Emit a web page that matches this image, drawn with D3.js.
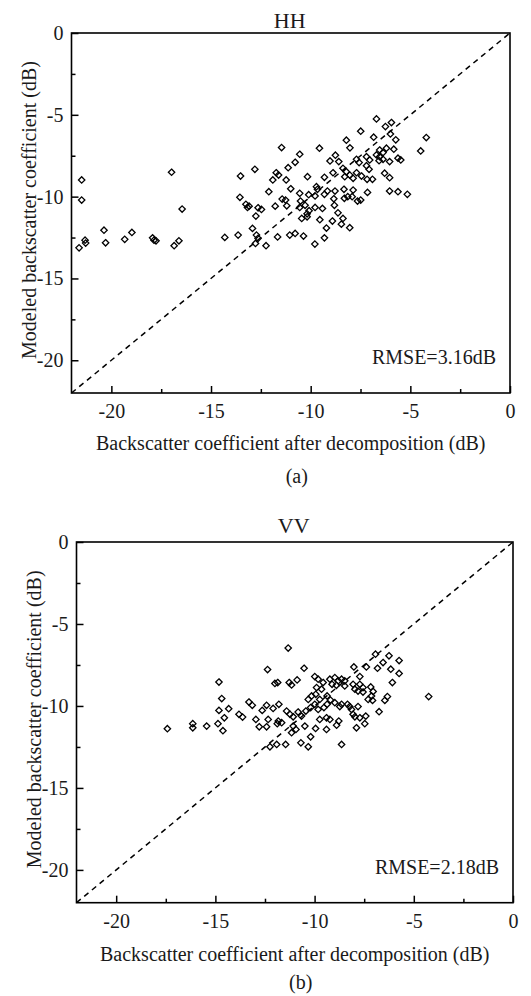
<!DOCTYPE html>
<html>
<head>
<meta charset="utf-8">
<script src="https://cdn.jsdelivr.net/npm/d3@7/dist/d3.min.js"></script>
<style>
  html, body { margin: 0; padding: 0; background: #fff; }
  svg { display: block; font-family: "Liberation Serif", "Times New Roman", serif; }
</style>
</head>
<body>
<svg id="chart" width="531" height="996"></svg>
<script>
// Observed (after decomposition) vs modeled backscatter, dB: [observed, modeled]
const hhPairs = [
  [-21.49,-8.98],[-21.49,-10.21],[-20.37,-12.05],[-21.62,-13.13],[-21.32,-12.66],[-21.29,-12.84],
  [-20.29,-12.82],[-19.33,-12.61],[-18.97,-12.19],[-17.93,-12.52],[-17.86,-12.66],[-17.76,-12.70],
  [-16.98,-8.51],[-16.45,-10.76],[-16.85,-13.00],[-16.61,-12.70],
  [-7.49,-6.0],[-8.21,-6.55],[-8.03,-7.02],[-11.46,-7.0],[-10.55,-7.41],[-9.56,-7.04],[-10.78,-7.9],
  [-11.13,-8.23],[-8.76,-7.47],[-9.03,-7.82],[-8.59,-7.86],[-7.7,-7.72],[-7.57,-7.92],[-7.2,-7.56],
  [-13.52,-8.74],[-12.8,-8.33],[-11.73,-8.54],[-11.61,-8.68],[-11.9,-8.98],[-11.23,-8.98],[-10.16,-8.78],
  [-9.31,-8.82],[-8.88,-8.54],[-8.38,-8.27],[-8.21,-8.48],[-8.04,-8.68],[-7.87,-8.88],[-8.29,-8.78],
  [-7.7,-8.54],[-7.45,-8.74],[-7.17,-8.94],[-11.0,-9.52],[-12.1,-9.7],[-10.55,-9.8],[-9.71,-9.39],
  [-9.66,-9.55],[-10.1,-9.88],[-9.78,-9.96],[-9.31,-9.86],[-8.78,-9.66],[-8.33,-9.55],[-7.87,-9.6],
  [-8.14,-10.0],[-8.31,-10.1],[-7.92,-10.0],[-8.84,-10.13],[-9.16,-9.66],[-13.55,-10.04],[-13.25,-10.47],
  [-13.17,-10.66],[-13.09,-10.58],[-12.64,-10.68],[-12.47,-10.78],[-12.75,-11.19],[-11.78,-10.58],
  [-11.43,-10.15],[-11.26,-10.21],[-11.2,-10.56],[-10.51,-10.27],[-10.28,-10.53],[-10.55,-10.66],
  [-10.08,-10.86],[-10.18,-11.05],[-9.78,-10.66],[-9.41,-10.72],[-8.81,-10.53],[-8.63,-10.99],
  [-7.15,-9.74],[-7.65,-10.27],[-7.49,-10.21],[-10.45,-11.33],[-10.18,-11.23],[-9.54,-11.41],
  [-8.91,-11.49],[-8.38,-11.33],[-8.46,-11.68],[-8.04,-11.9],[-9.21,-11.92],[-12.92,-11.94],
  [-12.72,-12.35],[-12.64,-12.55],[-12.77,-12.86],[-14.31,-12.49],[-13.64,-12.35],[-12.24,-13.0],
  [-11.66,-12.46],[-11.05,-12.35],[-10.78,-12.25],[-10.36,-12.41],[-9.79,-12.9],[-9.31,-12.52],
  [-6.7,-5.25],[-5.95,-5.47],[-6.25,-5.72],[-6.0,-6.17],[-6.84,-6.37],[-5.73,-6.53],[-4.2,-6.39],
  [-4.48,-7.21],[-6.2,-7.04],[-5.83,-7.1],[-6.54,-7.15],[-6.37,-7.31],[-6.7,-7.45],[-6.54,-7.56],
  [-7.04,-7.76],[-6.57,-7.8],[-6.37,-7.72],[-6.04,-7.86],[-7.2,-8.11],[-7.07,-8.33],[-5.62,-7.65],
  [-5.48,-7.76],[-6.9,-8.94],[-6.29,-8.57],[-6.04,-8.84],[-6.04,-9.66],[-5.62,-9.7],[-5.15,-9.86]
];

const vvPairs = [
  [-17.42,-11.39],[-16.14,-11.08],[-16.14,-11.33],[-15.44,-11.23],[-14.87,-11.08],[-14.62,-11.51],
  [-14.82,-8.54],[-14.68,-9.55],[-14.82,-10.27],[-14.33,-10.17],[-14.55,-10.72],[-13.81,-10.51],
  [-11.33,-6.47],[-12.37,-7.78],[-10.53,-7.7],[-12.0,-8.63],[-11.86,-8.57],[-11.28,-8.57],[-11.16,-8.72],
  [-10.88,-8.41],[-9.99,-8.21],[-9.82,-8.37],[-9.57,-8.57],[-9.23,-8.37],[-8.98,-8.27],[-8.81,-8.47],
  [-9.12,-8.68],[-8.9,-8.74],[-8.48,-8.47],[-8.48,-8.78],[-8.06,-8.68],[-7.97,-8.98],[-13.31,-9.76],
  [-13.14,-9.96],[-13.63,-10.68],[-12.64,-10.27],[-12.42,-9.96],[-12.09,-10.15],[-11.8,-9.9],
  [-12.96,-10.82],[-12.79,-11.27],[-12.42,-11.27],[-12.34,-10.82],[-11.83,-10.92],[-11.66,-11.02],
  [-11.88,-11.08],[-11.41,-10.31],[-11.24,-10.51],[-11.08,-10.66],[-10.83,-10.37],[-10.66,-10.62],
  [-10.44,-10.31],[-10.2,-10.1],[-9.99,-9.9],[-9.82,-10.21],[-9.53,-10.1],[-9.37,-9.9],[-9.74,-9.6],
  [-9.94,-9.29],[-10.15,-9.39],[-10.32,-9.6],[-9.9,-8.88],[-9.65,-8.98],[-9.37,-9.39],[-9.2,-9.64],
  [-8.98,-9.8],[-8.73,-10.04],[-11.08,-11.23],[-10.94,-11.43],[-11.16,-11.63],[-9.74,-10.82],
  [-9.4,-10.72],[-9.23,-10.82],[-8.78,-10.92],[-10.49,-11.23],[-9.95,-11.37],[-9.4,-11.43],
  [-8.34,-9.9],[-8.14,-10.21],[-7.97,-10.66],[-8.23,-10.04],[-7.89,-11.33],[-8.89,-11.17],
  [-10.69,-12.25],[-10.2,-11.88],[-10.32,-12.49],[-11.46,-12.35],[-11.91,-12.35],[-12.25,-12.49],
  [-8.64,-12.35],
  [-6.93,-6.84],[-6.25,-6.94],[-6.55,-7.35],[-6.83,-7.7],[-5.74,-7.23],[-6.16,-7.76],[-5.74,-8.02],
  [-6.08,-8.57],[-7.39,-7.62],[-8.02,-7.62],[-7.72,-8.21],[-4.25,-9.43],[-7.72,-8.68],[-7.56,-8.88],
  [-7.17,-8.84],[-7.05,-9.12],[-7.13,-9.39],[-7.3,-9.6],[-7.08,-9.66],[-7.56,-9.15],[-7.81,-9.09],
  [-8.64,-8.37],[-6.33,-9.43],[-6.46,-9.66],[-6.75,-10.35],[-8.64,-9.9],[-8.06,-10.51],[-7.81,-10.04],
  [-7.72,-10.72],[-7.42,-10.62],[-7.47,-11.08]
];

const axisDomain = [-22, 0];
const majorTicks = [-20, -15, -10, -5, 0];
const minorTicks = [-17.5, -12.5, -7.5, -2.5];
const panelTitles = ["HH", "VV"];
const panelTags = ["(a)", "(b)"];
const rmseLabels = ["RMSE=3.16dB", "RMSE=2.18dB"];
const xTitle = "Backscatter coefficient after decomposition (dB)";
const yTitle = "Modeled backscatter coefficient (dB)";

const svg = d3.select("#chart");
const serif = "Liberation Serif, Times New Roman, serif";

const panels = [
  { data: hhPairs, left: 71.5, right: 510, top: 33, bottom: 393, titleY: 27.5, xTitleY: 449.5, tagY: 483 },
  { data: vvPairs, left: 76.5, right: 513, top: 542, bottom: 902.7, titleY: 532.5, xTitleY: 961, tagY: 989 }
];

const diamond = "M0,-3.2L3.2,0L0,3.2L-3.2,0Z";
const tickLabel = v => (v < 0 ? "-" : "") + Math.abs(v);

panels.forEach((p, i) => {
  const x = d3.scaleLinear().domain(axisDomain).range([p.left, p.right]);
  const y = d3.scaleLinear().domain(axisDomain).range([p.bottom, p.top]);
  const g = svg.append("g");

  // 1:1 reference line
  g.append("line")
    .attr("x1", x(axisDomain[0])).attr("y1", y(axisDomain[0]))
    .attr("x2", x(axisDomain[1])).attr("y2", y(axisDomain[1]))
    .attr("stroke", "#000").attr("stroke-width", 1.5)
    .attr("stroke-dasharray", "5.5,4.5");

  // scatter markers
  g.append("g").selectAll("path").data(p.data).join("path")
    .attr("d", diamond)
    .attr("transform", d => `translate(${x(d[0])},${y(d[1])})`)
    .attr("fill", "none").attr("stroke", "#000").attr("stroke-width", 1.3);

  // axes with inward ticks
  g.append("g").attr("transform", `translate(0,${p.bottom})`)
    .call(d3.axisBottom(x).tickValues(majorTicks).tickSize(-7).tickPadding(11).tickFormat(tickLabel));
  g.append("g").attr("transform", `translate(0,${p.bottom})`)
    .call(d3.axisBottom(x).tickValues(minorTicks).tickSize(-4).tickFormat(""));
  g.append("g").attr("transform", `translate(${p.left},0)`)
    .call(d3.axisLeft(y).tickValues(majorTicks).tickSize(-7).tickPadding(8).tickFormat(tickLabel));
  g.append("g").attr("transform", `translate(${p.left},0)`)
    .call(d3.axisLeft(y).tickValues(minorTicks).tickSize(-4).tickFormat(""));

  g.selectAll(".domain").remove();
  g.selectAll(".tick line").attr("stroke", "#000").attr("stroke-width", 1.5);
  g.selectAll(".tick text")
    .attr("font-family", serif)
    .attr("font-size", 20).attr("fill", "#1a1a1a");

  // frame
  g.append("rect")
    .attr("x", p.left).attr("y", p.top)
    .attr("width", p.right - p.left).attr("height", p.bottom - p.top)
    .attr("fill", "none").attr("stroke", "#000").attr("stroke-width", 1.6);

  // texts
  const cx = (p.left + p.right) / 2;
  const txt = () => g.append("text").attr("font-family", serif).attr("fill", "#1a1a1a");
  txt().attr("x", cx - 1).attr("y", p.titleY)
    .attr("text-anchor", "middle").attr("font-size", 22)
    .text(panelTitles[i]);
  txt().attr("x", cx).attr("y", p.xTitleY)
    .attr("text-anchor", "middle").attr("font-size", 20)
    .text(xTitle);
  txt().attr("x", cx + 6).attr("y", p.tagY)
    .attr("text-anchor", "middle").attr("font-size", 20)
    .text(panelTags[i]);
  txt()
    .attr("transform", `translate(${p.left - 35.5},${(p.top + p.bottom) / 2 - 3}) rotate(-90)`)
    .attr("text-anchor", "middle").attr("font-size", 20)
    .text(yTitle);
  txt().attr("x", p.right - 14).attr("y", p.bottom - 29)
    .attr("text-anchor", "end").attr("font-size", 20)
    .text(rmseLabels[i]);
});
</script>
</body>
</html>
